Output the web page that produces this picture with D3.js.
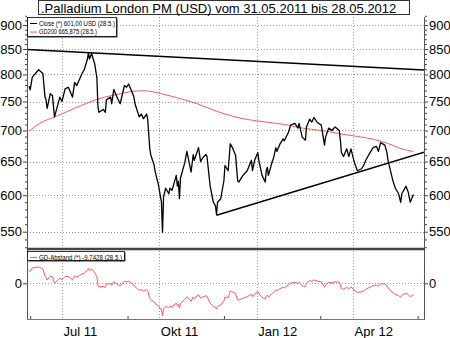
<!DOCTYPE html>
<html><head><meta charset="utf-8">
<script src="https://cdn.jsdelivr.net/npm/d3@7"></script>
<style>
html,body{margin:0;padding:0;background:#fff}
svg{display:block}
text{font-family:"Liberation Sans",Arial,sans-serif}
</style>
</head><body>
<svg id="chart" width="450" height="338"></svg>
<script>
// Palladium London PM fixing (USD), daily close
const closeDates = [
"2011-05-31","2011-06-01","2011-06-03","2011-06-09","2011-06-13","2011-06-15","2011-06-16","2011-06-17","2011-06-20","2011-06-22","2011-06-24","2011-06-29",
"2011-07-01","2011-07-04","2011-07-07","2011-07-11","2011-07-13","2011-07-15","2011-07-20","2011-07-22","2011-07-25","2011-07-26","2011-07-27","2011-07-29",
"2011-08-01","2011-08-03","2011-08-04","2011-08-05","2011-08-09","2011-08-11","2011-08-12","2011-08-16","2011-08-17","2011-08-19","2011-08-22","2011-08-25","2011-08-29","2011-08-31",
"2011-09-02","2011-09-05","2011-09-07","2011-09-08","2011-09-12","2011-09-14","2011-09-16","2011-09-19","2011-09-20","2011-09-22","2011-09-23","2011-09-26","2011-09-27","2011-09-30",
"2011-10-03","2011-10-04","2011-10-05","2011-10-07","2011-10-10","2011-10-11","2011-10-13","2011-10-17","2011-10-18","2011-10-19","2011-10-20","2011-10-21","2011-10-25","2011-10-27","2011-10-28","2011-10-31",
"2011-11-02","2011-11-03","2011-11-07","2011-11-09","2011-11-11","2011-11-14","2011-11-15","2011-11-18","2011-11-21","2011-11-23","2011-11-24","2011-11-25","2011-11-28",
"2011-12-01","2011-12-02","2011-12-05","2011-12-06","2011-12-07","2011-12-09","2011-12-12","2011-12-14","2011-12-15","2011-12-19","2011-12-23","2011-12-27","2011-12-28","2011-12-30",
"2012-01-02","2012-01-03","2012-01-04","2012-01-06","2012-01-09","2012-01-10","2012-01-11","2012-01-12","2012-01-16","2012-01-17","2012-01-19","2012-01-20","2012-01-23","2012-01-26","2012-01-27","2012-01-31",
"2012-02-02","2012-02-06","2012-02-09","2012-02-10","2012-02-13","2012-02-16","2012-02-17","2012-02-20","2012-02-22","2012-02-24","2012-02-27",
"2012-03-02","2012-03-05","2012-03-06","2012-03-09","2012-03-12","2012-03-15","2012-03-19","2012-03-20","2012-03-21","2012-03-23","2012-03-26","2012-03-28","2012-03-30",
"2012-04-02","2012-04-05","2012-04-09","2012-04-11","2012-04-13","2012-04-17","2012-04-20","2012-04-23","2012-04-25","2012-04-27",
"2012-05-01","2012-05-03","2012-05-04","2012-05-08","2012-05-09","2012-05-11","2012-05-14","2012-05-16","2012-05-17","2012-05-21","2012-05-23","2012-05-25","2012-05-28"
];
const closeValues = [
778,771,795,809,802,758,753,738,764,761,723,758,
750,773,776,758,785,779,802,809,829,842,830,841,
820,794,741,731,736,731,753,758,746,772,758,746,779,776,
782,768,758,746,723,728,720,728,719,670,660,645,635,616,
590,549,598,610,602,610,607,629,613,620,595,625,648,666,658,634,
661,652,672,650,656,661,658,613,590,585,573,590,595,
621,644,636,656,678,672,660,621,619,629,636,652,636,652,
664,652,644,629,619,636,641,629,652,656,672,666,678,686,683,697,
709,712,704,712,689,684,706,719,714,722,714,
709,676,689,704,700,706,700,684,664,658,670,658,670,
650,636,639,644,652,664,672,674,666,680,
676,664,652,625,619,610,602,590,602,613,605,590,601.00
];
// 200-day moving average
const gd200Dates = [
"2011-05-31","2011-06-10","2011-06-24","2011-07-13","2011-08-05","2011-08-25","2011-09-04","2011-09-16","2011-09-21",
"2011-10-03","2011-10-21","2011-11-06","2011-11-24","2011-12-02","2011-12-19","2012-01-02","2012-01-19","2012-01-31",
"2012-02-07","2012-03-06","2012-03-25","2012-04-13","2012-04-28","2012-05-08","2012-05-17","2012-05-28"
];
const gd200Values = [
699,712,723,738,755,764,768,769.5,769,
764,755,746,733,728,720,716,712,709,
706,699,693,688,682,676,670,665.875
];
// Distance of the close from the 200-day average, in percent (same dates as the close)
const abstandValues = [
11.2,10.0,13.1,13.9,12.3,5.9,5.1,2.9,6.2,5.6,0.1,4.4,
3.0,5.8,5.9,3.0,6.4,5.4,8.0,8.7,11.1,12.7,11.0,12.3,
9.1,5.5,-1.6,-3.1,-2.7,-3.5,-0.6,-0.2,-1.9,1.4,-0.6,-2.4,1.7,1.2,
1.9,0.0,-1.4,-2.9,-6.0,-5.4,-6.4,-5.4,-6.5,-12.8,-14.1,-15.9,-17.1,-19.5,
-22.7,-28.0,-21.6,-19.9,-20.8,-19.7,-20.0,-16.9,-18.9,-18.0,-21.2,-17.2,-13.9,-11.4,-12.4,-15.4,
-11.6,-12.8,-9.8,-12.6,-11.6,-10.7,-11.0,-16.9,-19.8,-20.3,-21.9,-19.5,-18.6,
-14.8,-11.6,-12.5,-9.7,-6.6,-7.3,-8.8,-14.1,-14.3,-12.7,-11.5,-9.2,-11.3,-9.0,
-7.2,-8.9,-10.0,-12.0,-13.3,-10.9,-10.2,-11.8,-8.5,-7.9,-5.6,-6.4,-4.6,-3.4,-3.8,-1.6,
0.2,0.8,-0.2,1.0,-2.2,-2.8,0.4,2.3,1.7,2.9,1.9,
1.3,-3.3,-1.4,0.9,0.4,1.4,0.7,-1.5,-4.4,-5.1,-3.3,-4.9,-3.1,
-5.9,-7.8,-7.3,-6.5,-5.2,-3.3,-1.9,-1.5,-2.5,-0.4,
-0.6,-2.2,-3.9,-7.5,-8.4,-9.5,-10.4,-12.1,-10.2,-8.3,-9.4,-11.5,-9.7428
];
// Trend lines (resistance from the top, support from the November low)
const resistanceDates = ["2011-05-29","2012-06-07"];
const resistanceValues = [849,808.5];
const supportDates = ["2011-11-24","2012-06-07"];
const supportValues = [572,664.5];

const priceTicks = [550,600,650,700,750,800,850,900];
const abstandTicks = [0];
const monthTickDates = ["2011-07-01","2011-10-01","2012-01-01","2012-04-01"];
const monthTickLabels = ["Jul 11","Okt 11","Jan 12","Apr 12"];
const minorMonthDates = ["2011-06-01","2011-09-01","2011-12-01","2012-03-01","2012-06-01"];

const titleText = ".Palladium London PM (USD) vom 31.05.2011 bis 28.05.2012";
const legendClose = "Close (*) 601,00 USD (28.5.)";
const legendGd = "GD200 665,875 (28.5.)";
const legendAbstand = "GD-Abstand (*) -9,7428 (28.5.)";

const parse = d3.timeParse("%Y-%m-%d");
const svg = d3.select("#chart");
const L = 27, R = 424, mainTop = 17, mainBottom = 249, lowBottom = 319;
const red = "#ff5a5a";

const x = d3.scaleTime().domain([parse("2011-05-29"), parse("2012-06-07")]).range([L, R]);
const y = d3.scaleLog().domain([550, 900]).range([231.7, 25]);
const yLow = d3.scaleLinear().domain([-30.5, 29.3]).range([lowBottom, mainBottom]);

const defs = svg.append("defs");
defs.append("clipPath").attr("id","clipMain").append("rect")
  .attr("x",L).attr("y",mainTop).attr("width",R-L).attr("height",mainBottom-mainTop);
defs.append("clipPath").attr("id","clipLow").append("rect")
  .attr("x",L).attr("y",mainBottom).attr("width",R-L).attr("height",lowBottom-mainBottom);

// grid
const grid = svg.append("g").attr("stroke","#9a9a9a").attr("stroke-dasharray","1,2").attr("stroke-width",1);
priceTicks.forEach(v => grid.append("line").attr("x1",L).attr("x2",R)
  .attr("y1",Math.round(y(v))+0.5).attr("y2",Math.round(y(v))+0.5));
abstandTicks.forEach(v => grid.append("line").attr("x1",L).attr("x2",R)
  .attr("y1",Math.round(yLow(v))+0.5).attr("y2",Math.round(yLow(v))+0.5));
monthTickDates.forEach(s => {
  const px = Math.round(x(parse(s)))+0.5;
  grid.append("line").attr("x1",px).attr("x2",px).attr("y1",mainTop).attr("y2",lowBottom);
});

// data
const closeData = closeDates.map((d,i)=>({date:parse(d), value:closeValues[i]}));
const gdData = gd200Dates.map((d,i)=>({date:parse(d), value:gd200Values[i]}));
const abData = closeDates.map((d,i)=>({date:parse(d), value:abstandValues[i]}));
const resData = resistanceDates.map((d,i)=>({date:parse(d), value:resistanceValues[i]}));
const supData = supportDates.map((d,i)=>({date:parse(d), value:supportValues[i]}));

const lineMain = d3.line().x(d=>x(d.date)).y(d=>y(d.value));
const lineLow = d3.line().x(d=>x(d.date)).y(d=>yLow(d.value));

const gMain = svg.append("g").attr("clip-path","url(#clipMain)").attr("fill","none");
gMain.append("path").datum(gdData).attr("d", lineMain.curve(d3.curveMonotoneX))
  .attr("stroke",red).attr("stroke-width",1);
lineMain.curve(d3.curveLinear);
gMain.append("path").datum(resData).attr("d", lineMain).attr("stroke","#000").attr("stroke-width",1.5);
gMain.append("path").datum(supData).attr("d", lineMain).attr("stroke","#000").attr("stroke-width",1.5);
gMain.append("path").datum(closeData).attr("d", lineMain).attr("stroke","#000").attr("stroke-width",1.3)
  .attr("stroke-linejoin","round");

const gLow = svg.append("g").attr("clip-path","url(#clipLow)").attr("fill","none");
gLow.append("path").datum(abData).attr("d", lineLow).attr("stroke",red).attr("stroke-width",1);

// frame
const frame = svg.append("g");
frame.append("line").attr("x1",L+0.5).attr("x2",L+0.5).attr("y1",mainTop).attr("y2",lowBottom).attr("stroke","#555");
frame.append("line").attr("x1",R+0.5).attr("x2",R+0.5).attr("y1",mainTop).attr("y2",lowBottom).attr("stroke","#555");
frame.append("line").attr("x1",L).attr("x2",R+1).attr("y1",mainBottom).attr("y2",mainBottom).attr("stroke","#444").attr("stroke-width",2.5);
frame.append("line").attr("x1",L).attr("x2",R+1).attr("y1",lowBottom+0.5).attr("y2",lowBottom+0.5).attr("stroke","#777");

// axes
function styleAxis(g){
  g.select(".domain").remove();
  g.selectAll("line").attr("stroke","#444");
  g.selectAll("text").attr("font-size",13).attr("fill","#000")
    .attr("font-family",'"Liberation Sans",Arial,sans-serif');
}
const minorPrice = d3.range(530, 921, 10).filter(v => !priceTicks.includes(v));
svg.append("g").attr("transform",`translate(${L},0)`)
  .call(d3.axisLeft(y).tickValues(minorPrice).tickSize(2).tickFormat("")).call(styleAxis);
svg.append("g").attr("transform",`translate(${R+1},0)`)
  .call(d3.axisRight(y).tickValues(minorPrice).tickSize(2).tickFormat("")).call(styleAxis);
svg.append("g").attr("transform",`translate(${L},0)`)
  .call(d3.axisLeft(y).tickValues(priceTicks).tickSize(4).tickPadding(1).tickFormat(d3.format("d"))).call(styleAxis);
svg.append("g").attr("transform",`translate(${R+1},0)`)
  .call(d3.axisRight(y).tickValues(priceTicks).tickSize(3).tickPadding(1).tickFormat(d3.format("d"))).call(styleAxis);
svg.append("g").attr("transform",`translate(${L},0)`)
  .call(d3.axisLeft(yLow).tickValues(abstandTicks).tickSize(4).tickPadding(1).tickFormat(d3.format("d"))).call(styleAxis);
svg.append("g").attr("transform",`translate(${R+1},0)`)
  .call(d3.axisRight(yLow).tickValues(abstandTicks).tickSize(3).tickPadding(1).tickFormat(d3.format("d"))).call(styleAxis);

// time axis: quarter labels starting at their gridline, small marks in between
const xAxis = svg.append("g").attr("transform",`translate(0,${lowBottom})`)
  .call(d3.axisBottom(x).tickValues(monthTickDates.map(parse)).tickSize(0).tickPadding(8)
    .tickFormat((d,i)=>monthTickLabels[i])).call(styleAxis);
xAxis.selectAll("text").attr("text-anchor","start").attr("dx",1);
svg.append("g").attr("transform",`translate(0,${lowBottom})`)
  .call(d3.axisTop(x).tickValues(minorMonthDates.map(parse)).tickSize(3).tickFormat("")).call(styleAxis);

// title box
const title = svg.append("g");
title.append("rect").attr("x",38.5).attr("y",0.5).attr("width",371).attr("height",14)
  .attr("fill","#fff").attr("stroke","#333");
title.append("text").attr("x",41).attr("y",12.5).attr("font-size",13).attr("fill","#000").text(titleText);

// legends
function legend(x0, y0, w, h, rows){
  const g = svg.append("g");
  g.append("rect").attr("x",x0+1.5).attr("y",y0+1.5).attr("width",w).attr("height",h).attr("fill","#333");
  g.append("rect").attr("x",x0+0.5).attr("y",y0+0.5).attr("width",w).attr("height",h)
    .attr("fill","#fff").attr("stroke","#000").attr("stroke-width",0.8);
  rows.forEach((r,i)=>{
    const cy = y0 + 6.5 + i*8.6;
    g.append("line").attr("x1",x0+3).attr("x2",x0+10).attr("y1",cy).attr("y2",cy)
      .attr("stroke",r.color).attr("stroke-width",1);
    g.append("text").attr("x",x0+12).attr("y",cy+2.2).attr("font-size",6.3).attr("fill","#000")
      .attr("textLength",r.len).attr("lengthAdjust","spacingAndGlyphs").text(r.text);
  });
}
legend(27, 17, 89, 19, [{text:legendClose,color:"#000",len:76},{text:legendGd,color:red,len:58}]);
legend(27, 251, 97, 9, [{text:legendAbstand,color:red,len:83}]);
</script>
</body></html>
